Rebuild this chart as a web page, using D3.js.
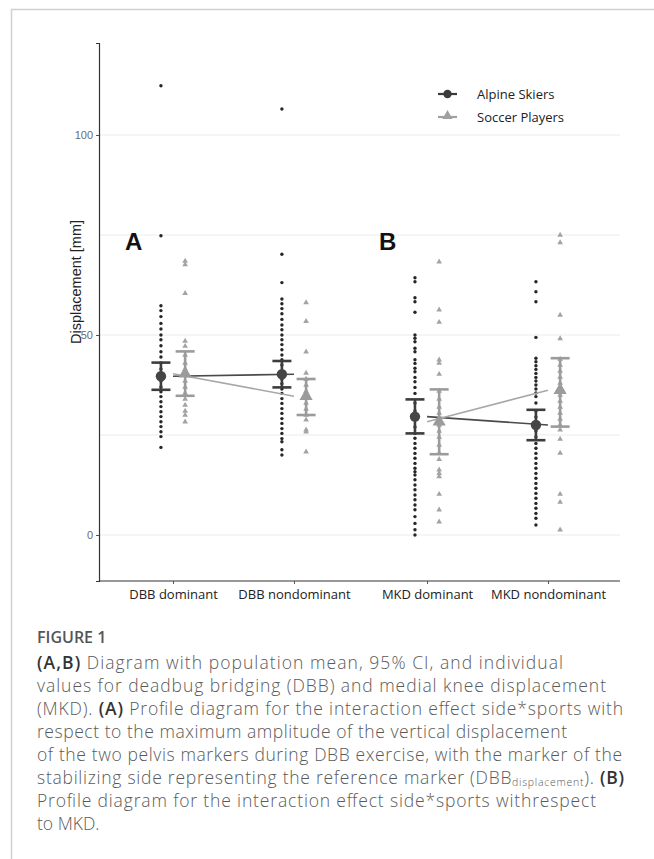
<!DOCTYPE html>
<html>
<head>
<meta charset="utf-8">
<script src="https://cdn.jsdelivr.net/npm/d3@7"></script>
<style>
  body { margin: 0; background: #fff; }
  svg { display: block; }
</style>
</head>
<body>
<div id="chart"></div>
<script>
// categories and panels
var categories = ["DBB dominant", "DBB nondominant", "MKD dominant", "MKD nondominant"];
var panelOf = [0, 0, 1, 1];
var panelLabels = ["A", "B"];
var groups = ["Alpine Skiers", "Soccer Players"];

// means and 95% CI
var skierMean = [39.7, 40.2, 29.6, 27.5];
var skierLow = [36.3, 36.9, 25.4, 23.7];
var skierHigh = [43.1, 43.5, 33.9, 31.3];
var soccerMean = [40.3, 34.7, 28.3, 36.2];
var soccerLow = [34.8, 30.0, 20.2, 27.1];
var soccerHigh = [45.9, 39.0, 36.4, 44.2];

// individual values
var skierDBBdom = [112.3, 74.8, 57.3, 56.1, 54.6, 52.9, 51.5, 50, 48.8, 47.3, 45.8, 44.5, 43, 41.5, 40, 38.5, 37,
  35.8, 34.6, 33.3, 32.1, 30.8, 29.6, 28.3, 27.1, 25.8, 24.6, 21.9];
var skierDBBnondom = [106.5, 70.2, 63.1, 59.0, 57.8, 56.6, 55.3, 53.9, 52.5, 51.3, 50, 48.8, 47.6, 46.3, 45, 43.8,
  42.5, 41, 39, 37.8, 36.5, 35.4, 34.1, 32.9, 31.6, 30.4, 29.1, 27.9, 26.6, 25.4, 24.1, 23.3, 21.3, 20];
var skierMKDdom = [64.3, 63.3, 59.3, 58.3, 55.7, 50, 49.2, 48.3, 46.7, 45.8, 43.8, 42.9, 41.7, 40.8, 39.4, 38.3,
  36.9, 35.4, 33, 31, 29, 27, 25.4, 24.2, 22.9, 21.7, 20.4, 19.2, 17.9, 16.7, 15.8, 15, 13.8, 12.5, 11.3, 10, 8.8,
  7.5, 6.3, 4.6, 2.9, 1.3, 0];
var skierMKDnondom = [63.3, 60.8, 58.3, 49.4, 44.2, 43.3, 42.3, 41.4, 40.4, 39.4, 38.5, 37.5, 36.5, 35.5, 34.6, 33,
  31, 29.5, 28, 26, 24.5, 22.9, 21.7, 20.4, 19.2, 17.9, 16.7, 15.4, 14.2, 12.9, 11.7, 10.4, 9.2, 7.9, 6.7, 5.4, 4.2, 2.5];
var soccerDBBdom = [68.5, 67.6, 60.4, 48.5, 47.2, 45, 43, 41.5, 40, 38.5, 37, 35.5, 34, 32.5, 31, 30, 28.3];
var soccerDBBnondom = [58.1, 53.4, 45.8, 40.5, 39, 37.5, 36, 34.5, 33, 31.5, 30, 28.8, 26.3, 25.8, 20.8];
var soccerMKDdom = [68.3, 56.3, 53.2, 43.8, 43, 40.2, 36, 34, 32, 30.5, 29, 27.5, 26, 24.5, 22.5, 20.5, 18.9, 16.3,
  15.4, 14.6, 10.2, 6.3, 3.3];
var soccerMKDnondom = [75, 73.1, 55, 49.1, 44, 42.5, 41, 39.5, 38, 36.5, 35, 33.5, 32, 30.5, 29, 27.5, 26.3, 24,
  20.5, 10.2, 8.2, 1.3];

var yTicks = [0, 50, 100];
var yGrid = [0, 25, 50, 75, 100];

var skierValues = [skierDBBdom, skierDBBnondom, skierMKDdom, skierMKDnondom];
var soccerValues = [soccerDBBdom, soccerDBBnondom, soccerMKDdom, soccerMKDnondom];

var width = 654, height = 859;
var dark = "#3d3d3d", light = "#9b9b9b";

var svg = d3.select("#chart")
  .append("svg")
  .attr("width", width)
  .attr("height", height);

// page frame
svg.append("path")
  .attr("d", "M11.5,859 V9.5 H654")
  .attr("fill", "none")
  .attr("stroke", "#d0d0d0")
  .attr("stroke-width", 1.5);

// scales
var panelGap = 0.1;   // extra space between DBB and MKD
var dodge = 0.1;
function catX(i) { return i + 1 + panelOf[i] * panelGap; }

var x = d3.scaleLinear()
  .domain([0.388, 4.695])
  .range([99, 620]);

var y = d3.scaleLinear()
  .domain([-11.5, 123])
  .range([581, 43]);

// grid
svg.append("g")
  .selectAll("line")
  .data(yGrid)
  .enter()
  .append("line")
    .attr("x1", x.range()[0])
    .attr("x2", x.range()[1])
    .attr("y1", function(d) { return y(d); })
    .attr("y2", function(d) { return y(d); })
    .attr("stroke", "#ececec")
    .attr("stroke-width", 1.2);

// axes
var yAxis = svg.append("g")
  .attr("transform", "translate(" + x.range()[0] + ",0)")
  .call(d3.axisLeft(y).tickValues(yTicks).tickSize(3).tickPadding(3));
yAxis.select(".domain").attr("stroke", "#333").attr("stroke-width", 1.2);
yAxis.selectAll(".tick line").attr("stroke", "#555");
yAxis.selectAll(".tick text")
  .style("font-family", "Liberation Sans, Arial, sans-serif")
  .style("font-size", "11px")
  .style("fill", "#6b6b6b");

var xAxis = svg.append("g")
  .attr("transform", "translate(0," + y.range()[0] + ")")
  .call(d3.axisBottom(x)
    .tickValues(categories.map(function(d, i) { return catX(i); }))
    .tickFormat(function(d, i) { return categories[i]; })
    .tickSize(3).tickPadding(6));
xAxis.select(".domain").attr("stroke", "#333").attr("stroke-width", 1.2)
  .attr("d", "M" + x.range()[0] + ",0H" + x.range()[1]);
xAxis.selectAll(".tick line").attr("stroke", "#555");
xAxis.selectAll(".tick text")
  .style("font-family", "Open Sans, sans-serif")
  .style("font-size", "13px")
  .style("fill", "#222");

// y label
svg.append("text")
  .attr("transform", "translate(81,282) rotate(-90)")
  .attr("text-anchor", "middle")
  .style("font-family", "Liberation Sans, Arial, sans-serif")
  .style("font-size", "14.5px")
  .style("fill", "#222")
  .text("Displacement [mm]");

// panel letters
svg.append("g")
  .selectAll("text")
  .data(panelLabels)
  .enter()
  .append("text")
    .attr("x", function(d, i) { return x(catX(i * 2)) - 48; })
    .attr("y", y(71.3))
    .style("font-family", "Liberation Sans, Arial, sans-serif")
    .style("font-weight", "bold")
    .style("font-size", "24px")
    .style("fill", "#111")
    .text(function(d) { return d; });

// individual points
var skierPts = [], soccerPts = [];
skierValues.forEach(function(arr, i) {
  arr.forEach(function(v) { skierPts.push({cat: i, v: v}); });
});
soccerValues.forEach(function(arr, i) {
  arr.forEach(function(v) { soccerPts.push({cat: i, v: v}); });
});

var smallTri = d3.symbol().type(d3.symbolTriangle).size(14);
var bigTri = d3.symbol().type(d3.symbolTriangle).size(75);

svg.append("g")
  .selectAll("path")
  .data(soccerPts)
  .enter()
  .append("path")
    .attr("d", smallTri)
    .attr("transform", function(d) { return "translate(" + x(catX(d.cat) + dodge) + "," + y(d.v) + ")"; })
    .attr("fill", "#a3a3a3");

svg.append("g")
  .selectAll("circle")
  .data(skierPts)
  .enter()
  .append("circle")
    .attr("cx", function(d) { return x(catX(d.cat) - dodge); })
    .attr("cy", function(d) { return y(d.v); })
    .attr("r", 1.7)
    .attr("fill", "#262626");

// profile lines (drawn at the undodged positions)
function profile(means, color) {
  [0, 1].forEach(function(p) {
    var idx = [0, 1, 2, 3].filter(function(i) { return panelOf[i] == p; });
    svg.append("path")
      .datum(idx)
      .attr("fill", "none")
      .attr("stroke", color)
      .attr("stroke-width", 1.6)
      .attr("d", d3.line()
        .x(function(i) { return x(catX(i)); })
        .y(function(i) { return y(means[i]); }));
  });
}
profile(skierMean, "#4a4a4a");
profile(soccerMean, "#a8a8a8");

// error bars
function errorBars(low, high, off, color) {
  var g = svg.append("g").attr("stroke", color).attr("stroke-width", 2.6);
  categories.forEach(function(c, i) {
    var cx = x(catX(i) + off);
    g.append("line").attr("x1", cx).attr("x2", cx).attr("y1", y(low[i])).attr("y2", y(high[i]));
    [low[i], high[i]].forEach(function(v) {
      g.append("line").attr("x1", cx - 9.5).attr("x2", cx + 9.5).attr("y1", y(v)).attr("y2", y(v));
    });
  });
}
errorBars(soccerLow, soccerHigh, dodge, light);
errorBars(skierLow, skierHigh, -dodge, dark);

// means
svg.append("g")
  .selectAll("path")
  .data(soccerMean)
  .enter()
  .append("path")
    .attr("d", bigTri)
    .attr("transform", function(d, i) { return "translate(" + x(catX(i) + dodge) + "," + y(d) + ")"; })
    .attr("fill", light);

svg.append("g")
  .selectAll("circle")
  .data(skierMean)
  .enter()
  .append("circle")
    .attr("cx", function(d, i) { return x(catX(i) - dodge); })
    .attr("cy", function(d) { return y(d); })
    .attr("r", 5.2)
    .attr("fill", "#454545");

// legend
var legend = svg.append("g").attr("transform", "translate(438,94)");
groups.forEach(function(g, i) {
  var row = legend.append("g").attr("transform", "translate(0," + (i * 23) + ")");
  var col = i == 0 ? "#3a3a3a" : "#a0a0a0";
  row.append("line").attr("x1", 0).attr("x2", 19).attr("stroke", col).attr("stroke-width", 2.2);
  if (i == 0)
    row.append("circle").attr("cx", 9.5).attr("r", 4.2).attr("fill", col);
  else
    row.append("path").attr("d", d3.symbol().type(d3.symbolTriangle).size(45)).attr("transform", "translate(9.5,-1)").attr("fill", col);
  row.append("text")
    .attr("x", 39)
    .attr("dy", "0.35em")
    .style("font-family", "Open Sans, sans-serif")
    .style("font-size", "13px")
    .style("fill", "#222")
    .text(g);
});

// caption, with the width of each printed line
var caption = [
  [["(A,B)", true], [" Diagram with population mean, 95% CI, and individual", false]],
  [["values for deadbug bridging (DBB) and medial knee displacement", false]],
  [["(MKD). ", false], ["(A)", true], [" Profile diagram for the interaction effect side*sports with", false]],
  [["respect to the maximum amplitude of the vertical displacement", false]],
  [["of the two pelvis markers during DBB exercise, with the marker of the", false]],
  [["stabilizing side representing the reference marker (DBB", false], ["displacement", "sub"], ["). ", false], ["(B)", true]],
  [["Profile diagram for the interaction effect side*sports withrespect", false]],
  [["to MKD.", false]]
];
var captionWidths = [526, 569, 586, 530, 585, 587, 559, null];

svg.append("text")
  .attr("x", 37)
  .attr("y", 643)
  .style("font-family", "Open Sans, sans-serif")
  .style("font-size", "16px")
  .style("font-weight", "600")
  .style("fill", "#555")
  .text("FIGURE 1");

caption.forEach(function(line, li) {
  var t = svg.append("text")
    .attr("x", 37)
    .attr("y", 669 + li * 23)
    .style("font-family", "Open Sans, sans-serif")
    .style("font-size", "17.5px")
    .style("font-weight", "300")
    .style("fill", "#5a5a5a");
  if (captionWidths[li])
    t.attr("textLength", captionWidths[li]).attr("lengthAdjust", "spacing");
  line.forEach(function(seg) {
    var s = t.append("tspan").text(seg[0]);
    if (seg[1] === true) s.style("font-weight", "600").style("fill", "#333");
    if (seg[1] === "sub") s.style("font-size", "10.5px").attr("dy", 2);
    else if (seg[0] === "). ") s.attr("dy", -2);
  });
});
</script>
</body>
</html>
